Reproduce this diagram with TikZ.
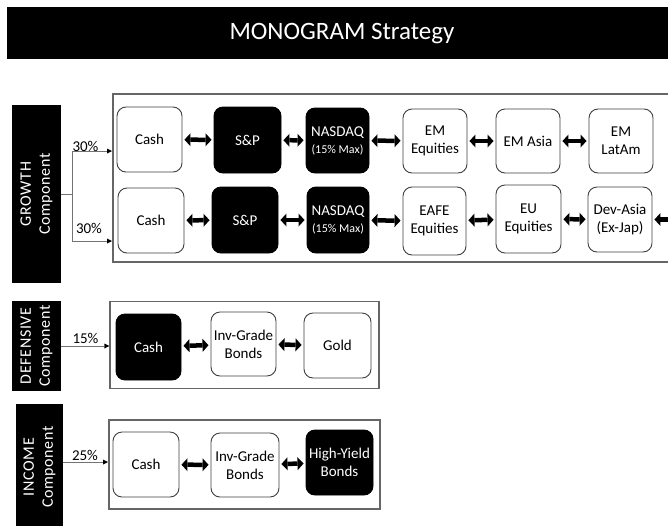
\documentclass[tikz,border=0pt]{standalone}
\usepackage{fontspec}
\setmainfont{Carlito}
\newfontfamily\labfont[LetterSpace=4]{Carlito}
\usetikzlibrary{arrows.meta}
\begin{document}
\begin{tikzpicture}[x=1pt,y=-1pt,
  box/.style={draw=black!75, line width=0.9pt, rounded corners=9pt, fill=white, align=center,
    font=\fontsize{15}{18}\selectfont, inner sep=1pt},
  dark/.style={box, fill=black, text=white, draw=black},
  outer/.style={draw=black!60, line width=1.3pt, fill=none, inner sep=0pt},
  lab/.style={fill=black, draw=none, inner sep=0pt},
  labtxt/.style={rotate=90, text=white, align=center, font=\labfont\fontsize{16}{19}\selectfont, inner sep=0pt},
  dbl/.style={line width=4.5pt, {Triangle[length=6pt,width=13pt,line width=0pt]}-{Triangle[length=6pt,width=13pt,line width=0pt]},
    shorten <=2pt, shorten >=2pt},
  sgl/.style={line width=4.5pt, -{Triangle[length=6pt,width=13pt,line width=0pt]}, shorten >=2pt},
  feedline/.style={draw=black!55, line width=0.8pt},
  feed/.style={feedline, -{Triangle[length=5pt,width=5pt,line width=0pt,color=black]}},
  pct/.style={font=\fontsize{15}{18}\selectfont, inner sep=0pt},
]
\clip (0,0) rectangle (668,525);
\fill[white] (0,0) rectangle (668,525);

% title
\node[fill=black, minimum width=670pt, minimum height=52pt, anchor=north west, inner sep=0pt] (bar) at (7,7) {};
\node[text=white, font=\fontsize{25}{30}\selectfont, inner sep=0pt] (title) at (342,34) {MONOGRAM Strategy};

% ---------- GROWTH ----------
\node[lab, minimum width=49pt, minimum height=178pt] (glab) at (36.5,194) {};
\node[labtxt] (gtxt) at (glab) {GROWTH\\Component};
\node[outer, minimum width=577pt, minimum height=168pt] (gbox) at (401.5,178) {};

\node[box, minimum width=65pt, minimum height=65pt] (a1) at (149.5,139.5) {Cash};
\node[dark, minimum width=67pt, minimum height=66pt] (a2) at (247.5,140) {S\&P};
\node[dark, minimum width=63pt, minimum height=65pt] (a3) at (337.5,140.5) {NASDAQ\\[-1pt]{\fontsize{12}{14}\selectfont (15\% Max)}};
\node[box, minimum width=64pt, minimum height=64pt] (a4) at (435,141) {EM\\Equities};
\node[box, minimum width=64pt, minimum height=64pt] (a5) at (528,141) {EM Asia};
\node[box, minimum width=64pt, minimum height=64pt] (a6) at (621,141) {EM\\LatAm};

\node[box, minimum width=66pt, minimum height=65pt] (b1) at (151,220.5) {Cash};
\node[dark, minimum width=66pt, minimum height=66pt] (b2) at (245,220) {S\&P};
\node[dark, minimum width=62pt, minimum height=66pt] (b3) at (338,220) {NASDAQ\\[-1pt]{\fontsize{12}{14}\selectfont (15\% Max)}};
\node[box, minimum width=63pt, minimum height=68pt] (b4) at (434.5,221) {EAFE\\Equities};
\node[box, minimum width=65pt, minimum height=68pt] (b5) at (528.5,219) {EU\\Equities};
\node[box, minimum width=64pt, minimum height=65pt] (b6) at (620,219.5) {Dev-Asia\\(Ex-Jap)};

\foreach \p/\q in {a1/a2,a2/a3,a3/a4,a4/a5,a5/a6,b1/b2,b2/b3,b3/b4,b4/b5,b5/b6}
  \draw[dbl] (\p) -- (\q);
\coordinate (bout) at (680,219.5);
\draw[sgl] (bout) -- (b6);

\coordinate (gsplit) at (72,194);
\coordinate (g1in) at (112,151);
\coordinate (g2in) at (112,241);
\draw[feedline] (glab.east) -- (gsplit);
\draw[feed] (gsplit) |- (g1in);
\draw[feed] (gsplit) |- (g2in);
\node[pct, anchor=base] (p1) at (85.5,151) {30\%};
\node[pct, anchor=base] (p2) at (89,233) {30\%};

% ---------- DEFENSIVE ----------
\node[lab, minimum width=49pt, minimum height=90pt] (dlab) at (36.5,346) {};
\node[labtxt] (dtxt) at (dlab) {DEFENSIVE\\Component};
\node[outer, minimum width=269pt, minimum height=87pt] (dbox) at (244.5,345) {};
\node[dark, minimum width=65pt, minimum height=66pt] (c1) at (148.5,347) {Cash};
\node[box, minimum width=65pt, minimum height=64pt] (c2) at (243.5,344) {Inv-Grade\\Bonds};
\node[box, minimum width=67pt, minimum height=65pt] (c3) at (337.5,345.5) {Gold};
\draw[dbl] (c1) -- (c2);
\draw[dbl] (c2) -- (c3);
\coordinate (din) at (dbox.west |- dlab.east);
\draw[feed] (dlab.east) -- (din);
\node[pct, anchor=base] (p3) at (85.5,343) {15\%};

% ---------- INCOME ----------
\node[lab, minimum width=47pt, minimum height=126pt] (ilab) at (39.5,467) {};
\node[labtxt] (itxt) at (39.5,467) {INCOME\\Component};
\node[outer, minimum width=271pt, minimum height=89pt] (ibox) at (244.5,464.5) {};
\node[box, minimum width=66pt, minimum height=65pt] (e1) at (146,464.5) {Cash};
\node[box, minimum width=68pt, minimum height=64pt] (e2) at (245,465) {Inv-Grade\\Bonds};
\node[dark, minimum width=67pt, minimum height=65pt] (e3) at (339.5,462.5) {High-Yield\\Bonds};
\draw[dbl] (e1) -- (e2);
\draw[dbl] (e2) -- (e3);
\coordinate (iout) at (63,462);
\coordinate (iin) at (108,462);
\draw[feed] (iout) -- (iin);
\node[pct, anchor=base] (p4) at (85,460) {25\%};
\end{tikzpicture}
\end{document}
